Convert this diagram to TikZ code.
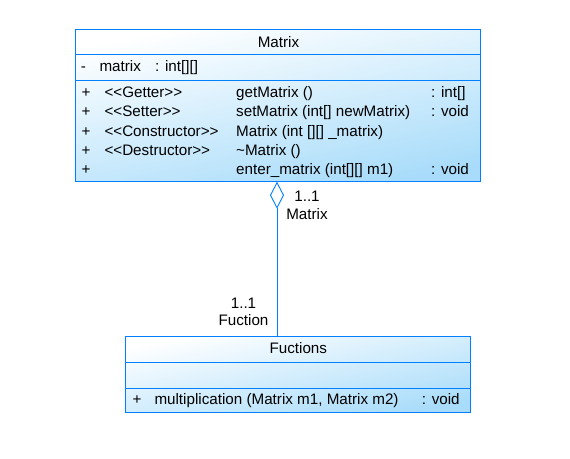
\documentclass[tikz,border=0pt]{standalone}
\usepackage{fontspec}
\setmainfont{Liberation Sans}
\usetikzlibrary{arrows.meta}
\definecolor{umlblue}{RGB}{0,128,255}
\definecolor{umlfill}{RGB}{168,220,250}
\begin{document}
\begin{tikzpicture}[x=1pt,y=-1pt,
  classbox/.style={draw=umlblue, line width=0.9pt, inner sep=0pt, rectangle,
     top color=white, bottom color=umlfill, shading angle=12},
  sep/.style={draw=umlblue, line width=0.9pt},
  txt/.style={inner sep=0pt, anchor=base west, font=\fontsize{15.2}{18}\selectfont},
  ctxt/.style={inner sep=0pt, anchor=base, font=\fontsize{15.2}{18}\selectfont},
  assoc/.style={draw=umlblue, line width=0.9pt}]
\useasboundingbox (0,0) rectangle (570,458);
% Matrix class
\node[classbox, minimum width=405pt, minimum height=152pt] (matrix) at (277.5,105.8) {};
\draw[sep] (75,54.5) -- (480,54.5);
\draw[sep] (75,80.3) -- (480,80.3);
\node[ctxt] (mt) at (278.5,47) {Matrix};
\node[ctxt] (a0) at (83.5,71.7) {-};
\node[txt] (a1) at (99.3,71.7) {matrix};
\node[txt] (a2) at (155,71.7) {: int[][]};
\foreach \y/\st/\me/\ty [count=\i] in
 {97.7/{<{}<Getter>{}>}/{getMatrix ()}/{: int[]},
  116.7/{<{}<Setter>{}>}/{setMatrix (int[] newMatrix)}/{: void},
  136/{<{}<Constructor>{}>}/{Matrix (int [][] \_matrix)}/{},
  155.5/{<{}<Destructor>{}>}/{\char`~Matrix ()}/{},
  174.4/{}/{enter\_matrix (int[][] m1)}/{: void}}{
  \node[ctxt] (p\i) at (86,\y) {+};
  \node[txt] (s\i) at (104.3,\y) {\st};
  \node[txt] (m\i) at (236,\y) {\me};
  \node[txt] (t\i) at (431,\y) {\ty};
}
% Fuctions class
\node[classbox, minimum width=345.7pt, minimum height=76.3pt] (fuct) at (297.9,374.2) {};
\draw[sep] (125,362.3) -- (470.7,362.3);
\draw[sep] (125,388) -- (470.7,388);
\node[ctxt] (ft) at (298.3,353.5) {Fuctions};
\node[ctxt] (fp) at (137,404.5) {+};
\node[txt] (fm) at (154.3,404.5) {multiplication (Matrix m1, Matrix m2)};
\node[txt] (fty) at (421.7,404.5) {: void};
% association
\coordinate (top) at (277,181.7);
\coordinate (bot) at (fuct.north -| top);
\draw[assoc, {Diamond[open, length=27pt, width=14pt, line width=0.9pt]}-] (top) -- (bot);
\node[ctxt] (l1) at (307,201.5) {1..1};
\node[ctxt] (l2) at (307,219.5) {Matrix};
\node[ctxt] (l3) at (243.5,308) {1..1};
\node[ctxt] (l4) at (243.5,325.5) {Fuction};
\end{tikzpicture}
\end{document}
